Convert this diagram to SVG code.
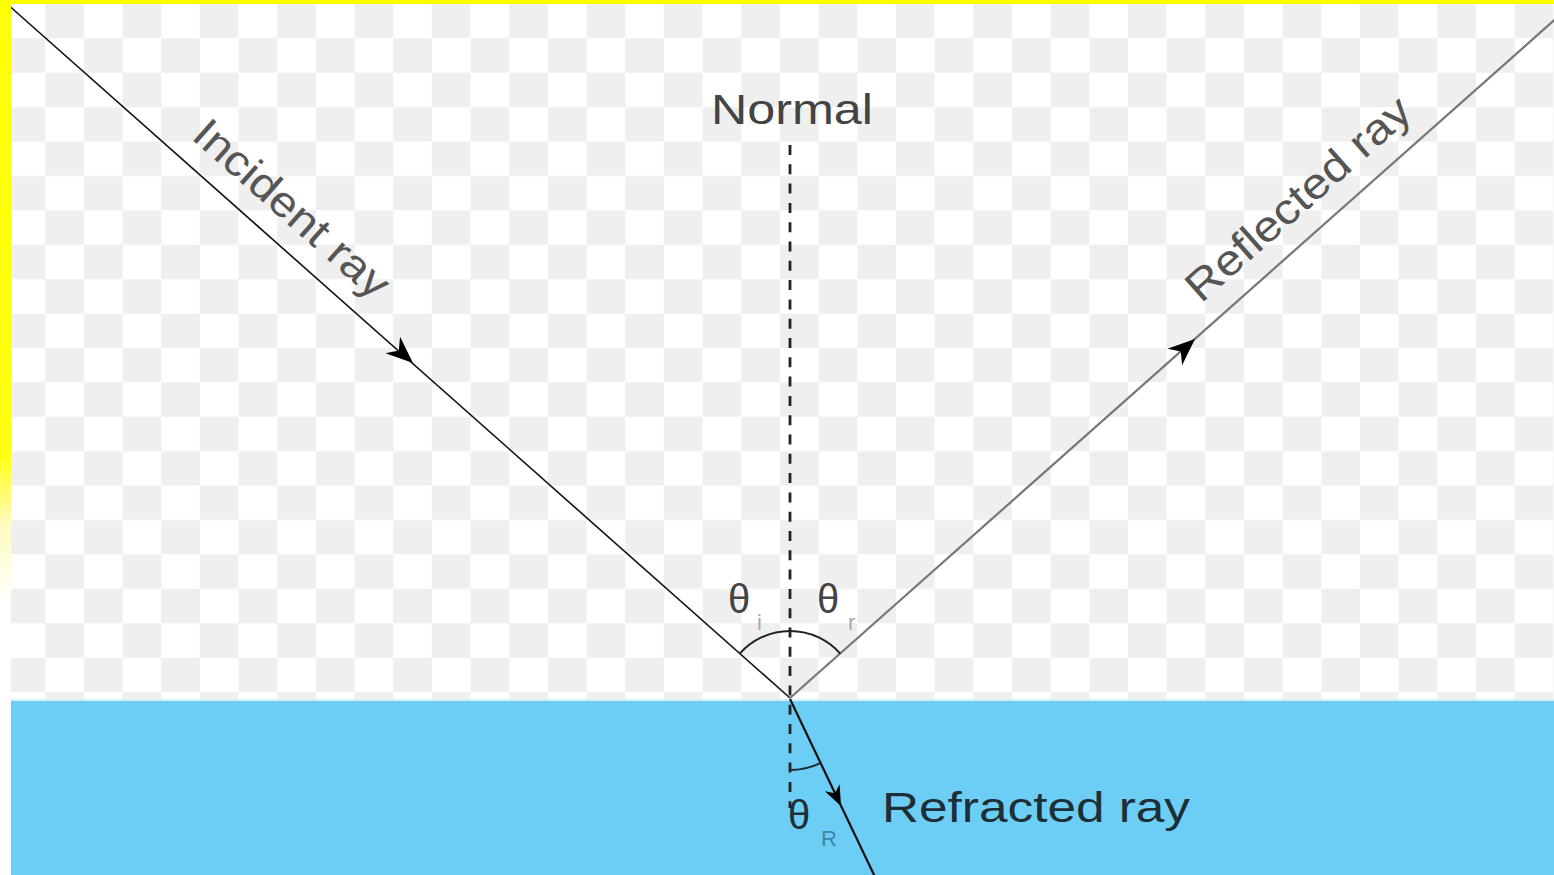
<svg xmlns="http://www.w3.org/2000/svg" width="1554" height="875" viewBox="0 0 1554 875">
  <style>
    .lbl { font-family: "Liberation Sans", Arial, sans-serif; font-size: 43px; fill: #444; }
    .theta { font-family: "Liberation Sans", "DejaVu Sans", sans-serif; font-size: 40px; fill: #444; }
    .sub { font-family: "Liberation Sans", "DejaVu Sans", sans-serif; font-size: 22px; fill: #aaa; }
    .ray { fill: none; }
    .arrow { fill: #000; }
  </style>
  <defs>
    <pattern id="checker" patternUnits="userSpaceOnUse" x="6.5" y="4" width="77.34" height="68.8">
      <rect x="0" y="0" width="77.34" height="68.8" fill="#ffffff"/>
      <rect x="38.67" y="0" width="38.67" height="34.4" fill="#efefef"/>
      <rect x="0" y="34.4" width="38.67" height="34.4" fill="#efefef"/>
    </pattern>
    <linearGradient id="leftEdge" x1="0" y1="0" x2="0" y2="875" gradientUnits="userSpaceOnUse">
      <stop offset="0" stop-color="#ffff00"/>
      <stop offset="0.52" stop-color="#ffff10"/>
      <stop offset="0.6" stop-color="#fffbc0"/>
      <stop offset="0.69" stop-color="#ffffff"/>
      <stop offset="1" stop-color="#ffffff"/>
    </linearGradient>
    <path id="arrowhead" d="M0,0 L-27,-11 L-19,0 L-27,11 Z"/>
  </defs>

  <g id="background">
    <rect x="0" y="0" width="1554" height="875" fill="#ffffff"/>
    <rect x="11" y="4" width="1543" height="697" fill="url(#checker)"/>
  </g>

  <g id="water">
    <rect x="11" y="699" width="1543" height="3" fill="#d6f1fc"/>
    <rect x="11" y="701" width="1543" height="174" fill="#6dcef5"/>
  </g>

  <g id="connectors">
    <line id="normal-line" x1="790" y1="145" x2="790" y2="808" stroke="#222" stroke-width="2.8" stroke-dasharray="10 9.3"/>
    <line id="incident-line" class="ray" x1="6" y1="3" x2="790" y2="698" stroke="#111" stroke-width="1.6"/>
    <line id="reflected-line" class="ray" x1="790" y1="698" x2="1560" y2="15" stroke="#777" stroke-width="2.2"/>
    <line id="refracted-line" class="ray" x1="790" y1="699" x2="876" y2="879" stroke="#111" stroke-width="2.2"/>
    <path id="arc-incidence" class="ray" d="M739.8,653.6 A67,67 0 0,1 840.2,653.6" stroke="#222" stroke-width="2"/>
    <path id="arc-refraction" class="ray" d="M790,770 A70,70 0 0,0 820.3,763.1" stroke="#1a2a33" stroke-width="2"/>
    <use href="#arrowhead" class="arrow" transform="translate(413,363) rotate(41.5)"/>
    <use href="#arrowhead" class="arrow" transform="translate(1195,339) rotate(-41.5)"/>
    <use href="#arrowhead" class="arrow" transform="translate(841,806) rotate(64.3) scale(0.75)"/>
  </g>

  <g id="label-normal">
    <text class="lbl" x="711" y="124" textLength="162" lengthAdjust="spacingAndGlyphs">Normal</text>
  </g>
  <g id="label-incident">
    <text class="lbl" transform="translate(190,138) rotate(41.5)" textLength="246" lengthAdjust="spacingAndGlyphs" style="fill:#555">Incident ray</text>
  </g>
  <g id="label-reflected">
    <text class="lbl" transform="translate(1201,304) rotate(-41.5)" textLength="285" lengthAdjust="spacingAndGlyphs" style="fill:#555">Reflected ray</text>
  </g>
  <g id="label-refracted">
    <text class="lbl" x="882" y="822" textLength="308" lengthAdjust="spacingAndGlyphs" style="fill:#1e2e36">Refracted ray</text>
  </g>
  <g id="angle-i">
    <text class="theta" x="728" y="613">θ</text>
    <text class="sub" x="757" y="630">i</text>
  </g>
  <g id="angle-r">
    <text class="theta" x="817" y="613">θ</text>
    <text class="sub" x="848" y="630">r</text>
  </g>
  <g id="angle-R">
    <text class="theta" x="788" y="829" style="fill:#1e2e36">θ</text>
    <text class="sub" x="821" y="846" style="fill:#3f86a4">R</text>
  </g>

  <g id="border">
    <rect x="0" y="0" width="1554" height="4" fill="#ffff00"/>
    <rect x="0" y="0" width="11" height="875" fill="url(#leftEdge)"/>
  </g>
</svg>
